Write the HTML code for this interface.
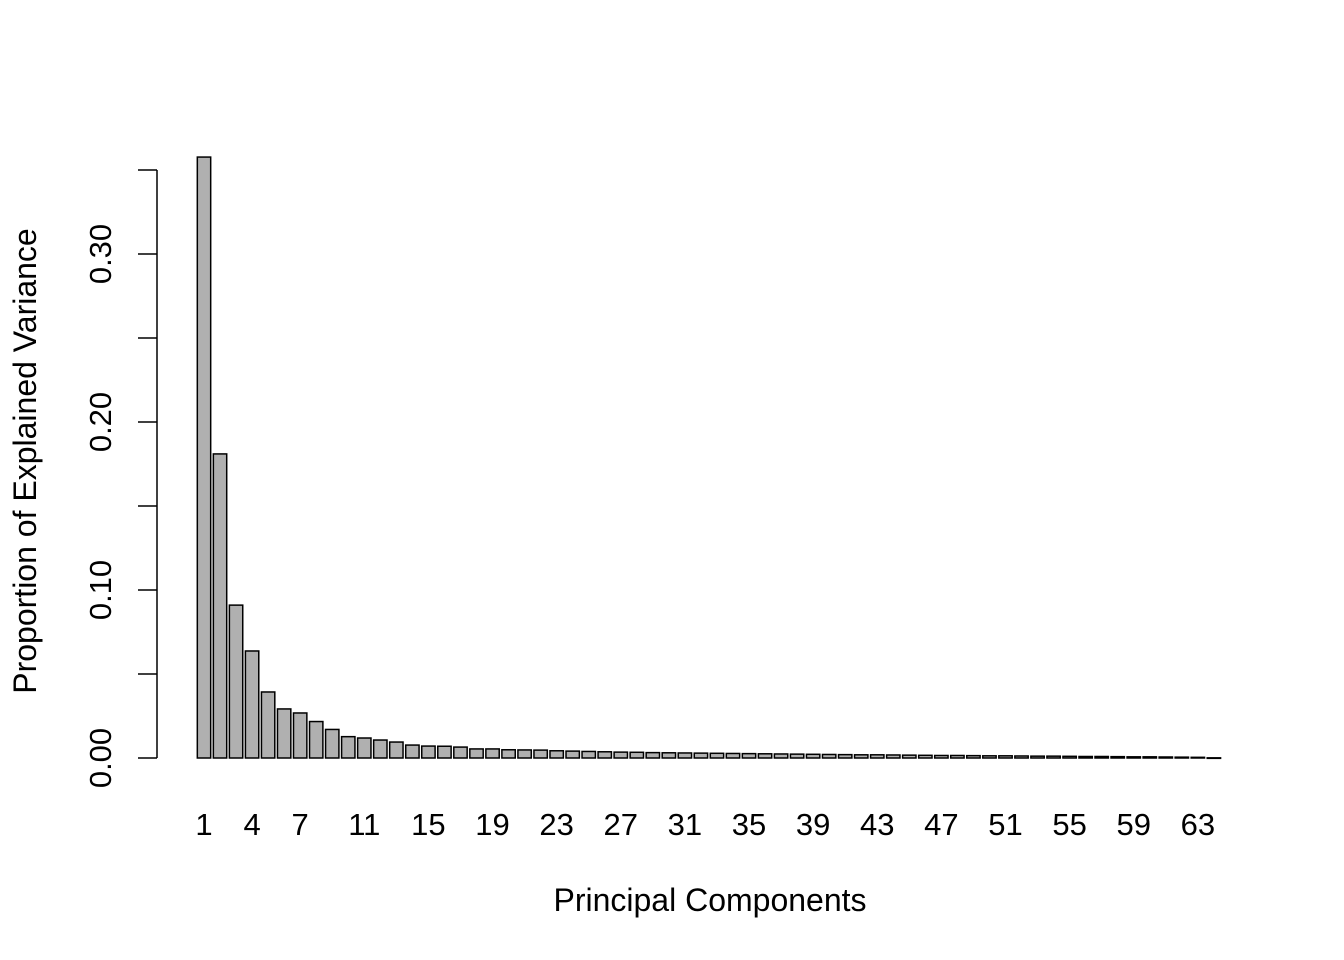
<!DOCTYPE html>
<html><head><meta charset="utf-8"><style>
body{margin:0;background:#fff;}
svg{display:block;font-family:"Liberation Sans",Arial,sans-serif;}
</style></head><body>
<svg width="1344" height="960">
<g id="bars"></g>
<g id="axis"></g>
<g id="xl"></g>
<text x="710" y="911" font-size="32" text-anchor="middle">Principal Components</text>
<text transform="translate(36,461) rotate(-90)" font-size="32" text-anchor="middle">Proportion of Explained Variance</text>
</svg>
<script>
const values=[0.3577,0.181,0.091,0.0637,0.0393,0.0292,0.0268,0.0217,0.0170,0.0127,0.0119,0.0107,0.0095,0.0077,0.0071,0.0070,0.0065,0.0054,0.0054,0.0049,0.0048,0.0047,0.0043,0.0041,0.0039,0.0037,0.0035,0.0034,0.0032,0.0031,0.0030,0.0029,0.0028,0.0027,0.0026,0.0025,0.0024,0.0023,0.0022,0.0021,0.0020,0.0019,0.0019,0.0018,0.0017,0.0016,0.0015,0.0015,0.0014,0.0013,0.0013,0.0012,0.0011,0.0011,0.0010,0.0009,0.0009,0.0008,0.0007,0.0007,0.0006,0.0005,0.0004,0.0001];
const xLabels=[1,4,7,11,15,19,23,27,31,35,39,43,47,51,55,59,63];
const yTicks=[0,0.05,0.10,0.15,0.20,0.25,0.30,0.35];
const yLabels=["0.00","0.10","0.20","0.30"];
const NS="http://www.w3.org/2000/svg";
const y=v=>758-v*1680;
const xc=i=>204+(i-1)*16.03;
const W=13.36;
const bars=document.getElementById('bars');
values.forEach((v,k)=>{
 const r=document.createElementNS(NS,'rect');
 r.setAttribute('x',xc(k+1)-W/2);r.setAttribute('y',y(v));
 r.setAttribute('width',W);r.setAttribute('height',Math.max(0.5,758-y(v)));
 r.setAttribute('fill','#b0b0b0');r.setAttribute('stroke','#000');r.setAttribute('stroke-width','1.5');
 
 
 bars.appendChild(r);
});
const ax=document.getElementById('axis');
function line(x1,y1,x2,y2){const l=document.createElementNS(NS,'line');l.setAttribute('x1',x1);l.setAttribute('y1',y1);l.setAttribute('x2',x2);l.setAttribute('y2',y2);l.setAttribute('stroke','#000');l.setAttribute('stroke-width','1.5');ax.appendChild(l);return l;}
line(157,y(yTicks[0]),157,y(yTicks[yTicks.length-1]));
yTicks.forEach(t=>{const l=line(138,y(t),157,y(t));
 
 });
yLabels.forEach(s=>{const t=document.createElementNS(NS,'text');
 const yy=y(parseFloat(s));
 t.setAttribute('transform','translate(111,'+yy+') rotate(-90)');
 t.setAttribute('font-size','31');t.setAttribute('text-anchor','middle');t.textContent=s;
 
 
 ax.appendChild(t);});
const xl=document.getElementById('xl');
xLabels.forEach(n=>{const t=document.createElementNS(NS,'text');
 t.setAttribute('x',xc(n));t.setAttribute('y',835);t.setAttribute('font-size','31');t.setAttribute('text-anchor','middle');t.textContent=n;
 
 
 xl.appendChild(t);});
</script>
</body></html>
